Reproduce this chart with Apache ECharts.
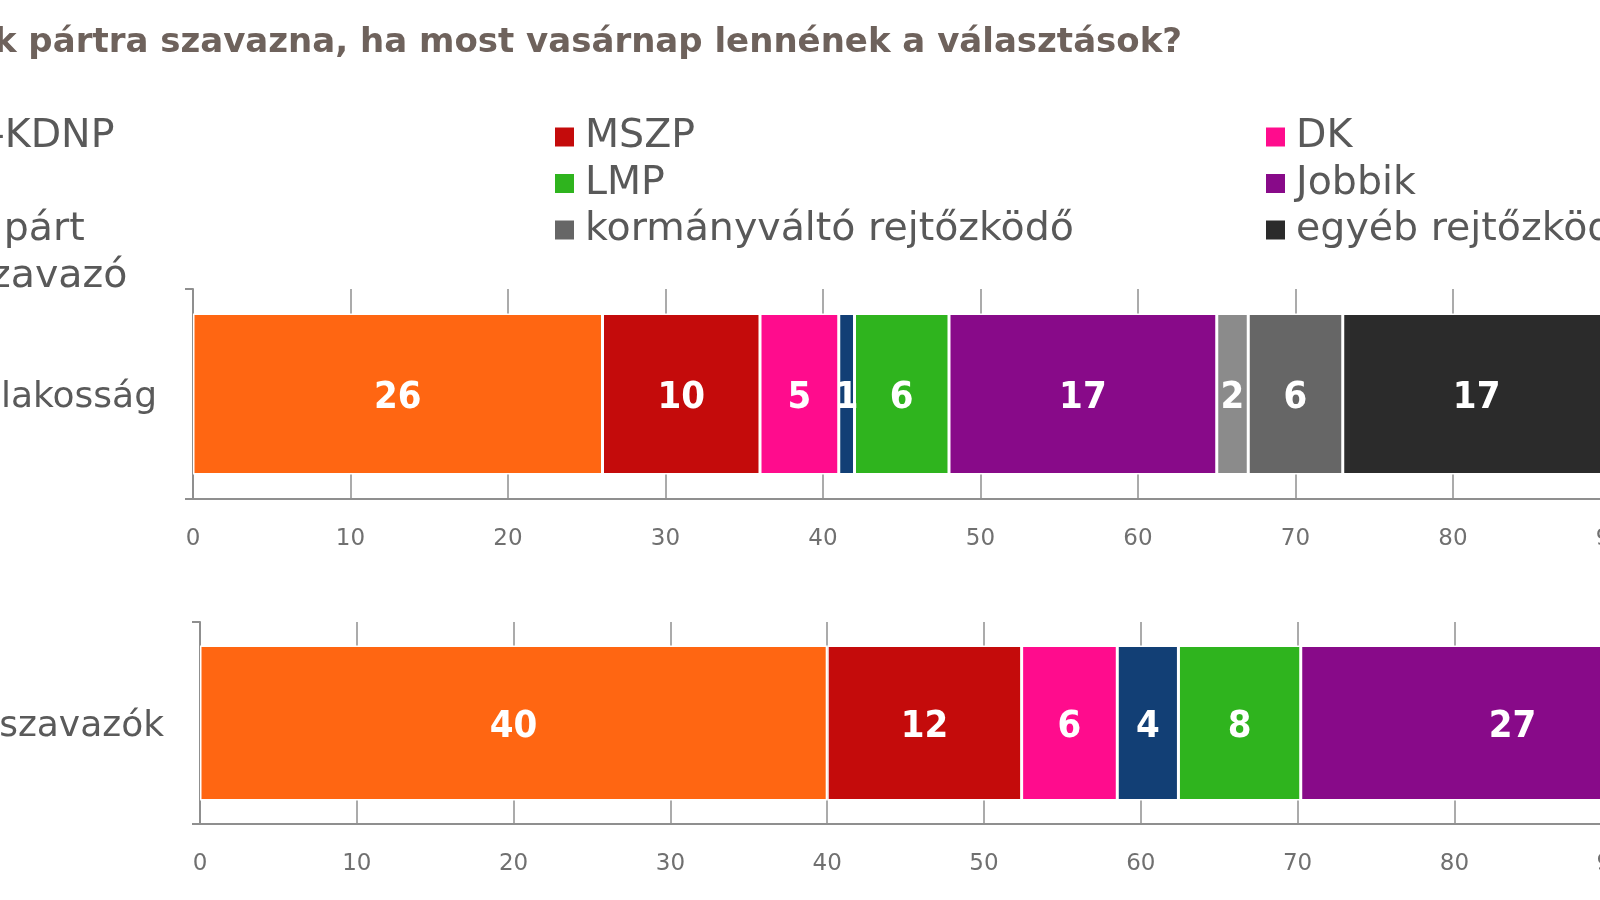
<!DOCTYPE html>
<html>
<head>
<meta charset="utf-8">
<script src="https://cdn.jsdelivr.net/npm/echarts@6/dist/echarts.min.js"></script>
<style>
html,body{margin:0;padding:0;background:#fff;}
#chart{width:1600px;height:900px;}
</style>
</head>
<body>
<div id="chart"></div>
<script>
const titleText = 'Melyik pártra szavazna, ha most vasárnap lennének a választások?';
const parties = ['Fidesz-KDNP','MSZP','DK','Együtt','LMP','Jobbik','egyéb párt','kormányváltó rejtőzködő','egyéb rejtőzködő','nem szavazó'];
const partyColors = ['#FF6612','#C40B0B','#FF0C8D','#123F75','#2FB41E','#880A89','#8B8B8B','#666666','#2B2B2B','#C8C8C8'];
const topCategory = ['teljes lakosság'];
const bottomCategory = ['biztos szavazók'];
const topValues = [26, 10, 5, 1, 6, 17, 2, 6, 17, 10];
const bottomValues = [40, 12.4, 6.1, 3.9, 7.8, 27, 2.8, null, null, null];
const xTicks = [0,10,20,30,40,50,60,70,80,90,100];

const legendCol1 = ['Fidesz-KDNP','Együtt','egyéb párt','nem szavazó'];
const legendCol2 = ['MSZP','LMP','kormányváltó rejtőzködő'];
const legendCol3 = ['DK','Jobbik','egyéb rejtőzködő'];

const FONT = 'DejaVu Sans';
const LABEL_FONT = "'DejaVu Sans Condensed', 'DejaVu Sans'";
const chart = echarts.init(document.getElementById('chart'), null, {renderer:'canvas'});

function makeSeries(values, gridIdx, barW) {
  return parties.map((name, i) => ({
    name: name,
    type: 'bar',
    stack: 'g' + gridIdx,
    xAxisIndex: gridIdx,
    yAxisIndex: gridIdx,
    barWidth: barW,
    data: [values[i]],
    itemStyle: {color: partyColors[i], borderColor: '#ffffff', borderWidth: 1.5},
    label: {
      show: true, position: 'inside', color: '#ffffff',
      fontFamily: LABEL_FONT, fontSize: 38, fontWeight: 'bold',
      offset: [0, 4],
      formatter: p => (p.value == null || p.value === 0) ? '' : String(Math.round(p.value))
    },
    emphasis: {disabled: true}
  }));
}

function xAxisDef(gridIdx) {
  return {
    type: 'value', gridIndex: gridIdx, min: 0, max: 100, interval: 10,
    axisLine: {show: true, lineStyle: {color: '#8f8f8f', width: 2}},
    axisTick: {show: false},
    splitLine: {show: true, lineStyle: {color: '#8f8f8f', width: 1.5}},
    axisLabel: {fontFamily: FONT, fontSize: 23, color: '#707070', margin: 29,
      formatter: v => xTicks.indexOf(v) >= 0 ? String(v) : ''}
  };
}
function yAxisDef(gridIdx, cats) {
  return {
    type: 'category', gridIndex: gridIdx, data: cats,
    axisLine: {show: true, lineStyle: {color: '#8f8f8f', width: 2}},
    axisTick: {show: true, length: 8, lineStyle: {color: '#8f8f8f', width: 2}},
    axisLabel: {
      margin: 36,
      formatter: v => '{c|' + v + '}',
      rich: {c: {fontFamily: FONT, fontSize: 36, color: '#5a5a5a', padding: [8, 0, 0, 0]}}
    }
  };
}
function legendDef(data, left) {
  return {
    data: data, orient: 'vertical', left: left, top: 117, padding: 0,
    icon: 'rect', itemWidth: 21, itemHeight: 21, itemGap: 6.5,
    selectedMode: false,
    textStyle: {fontFamily: FONT, fontSize: 39.5, color: '#595959', lineHeight: 36, padding: [0,0,0,5]}
  };
}

const option = {
  backgroundColor: '#ffffff',
  animation: false,
  title: {
    text: titleText, right: 418, top: 26, padding: 0,
    textStyle: {fontFamily: FONT, fontSize: 34, fontWeight: 'bold', color: '#6e625c'}
  },
  legend: [legendDef(legendCol1, -163), legendDef(legendCol2, 553), legendDef(legendCol3, 1264)],
  grid: [
    {left: 193, top: 289, width: 1575, height: 210, outerBoundsMode: 'none', containLabel: false},
    {left: 200, top: 622, width: 1568, height: 202, outerBoundsMode: 'none', containLabel: false}
  ],
  xAxis: [xAxisDef(0), xAxisDef(1)],
  yAxis: [yAxisDef(0, topCategory), yAxisDef(1, bottomCategory)],
  series: makeSeries(topValues, 0, 161).concat(makeSeries(bottomValues, 1, 155))
};
chart.setOption(option);
</script>
</body>
</html>
